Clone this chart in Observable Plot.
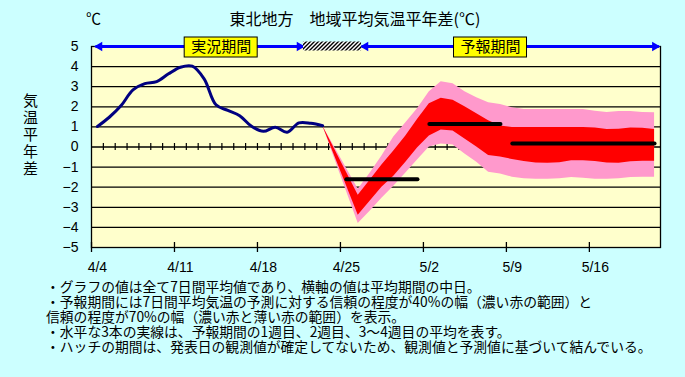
<!DOCTYPE html>
<html><head><meta charset="utf-8">
<script src="https://cdn.jsdelivr.net/npm/d3@7"></script>
<script src="https://cdn.jsdelivr.net/npm/@observablehq/plot@0.6"></script>
<style>
body{margin:0;background:#ccffff;width:685px;height:377px;position:relative;overflow:hidden;font-family:"Noto Sans CJK JP",sans-serif;}
.t{position:absolute;white-space:nowrap;color:#000;}
.n{position:absolute;left:46px;white-space:nowrap;font-size:13.8px;line-height:15px;height:15px;color:#000;}
</style></head><body>
<div id="chart" style="position:absolute;left:0;top:0"></div>
<div class="t" style="left:86px;top:7px;font-size:15px">℃</div>
<div class="t" style="left:355px;top:6px;font-size:16px;transform:translateX(-50%)">東北地方　地域平均気温平年差(℃)</div>
<div class="t" style="left:23px;top:91px;font-size:15px;line-height:17px;white-space:normal;width:16px">気<br>温<br>平<br>年<br>差</div>
<div class="n" style="top:279px">・グラフの値は全て7日間平均値であり、横軸の値は平均期間の中日。</div>
<div class="n" style="top:294px">・予報期間には7日間平均気温の予測に対する信頼の程度が40%の幅（濃い赤の範囲）と</div>
<div class="n" style="top:309px">信頼の程度が70%の幅（濃い赤と薄い赤の範囲）を表示。</div>
<div class="n" style="top:324px">・水平な3本の実線は、予報期間の1週目、2週目、3～4週目の平均を表す。</div>
<div class="n" style="top:339px">・ハッチの期間は、発表日の観測値が確定してないため、観測値と予測値に基づいて結んでいる。</div>
<script>
// ---- data (day index: 0 = 4/4) ----
const obsDay = [0,1,2,3,4,5,6,7,8,9,10,11,12,13,14,15,16,17,18,19];
const obsVal = [1.02,1.48,2.06,2.84,3.15,3.25,3.64,3.97,4.02,3.39,2.1,1.82,1.56,1.03,0.78,0.98,0.73,1.2,1.18,1.06];

const fcDay  = [19,22,23,24,25,26,27,28,29,30,31,32,33,34,35,36,37,38,39,40,41,42,43,44,45,46,47];
const pinkHi = [1.06,-2.1,-1.3,-0.45,0.5,1.2,1.9,2.75,3.25,3.15,2.75,2.45,2.2,2.12,1.95,1.87,1.86,1.86,1.86,1.86,1.86,1.78,1.72,1.77,1.77,1.72,1.7];
const redHi  = [1.06,-2.4,-1.65,-0.9,-0.2,0.53,1.37,2.15,2.42,2.32,2.0,1.65,1.3,1.05,0.97,0.97,0.97,0.97,0.97,0.97,0.97,0.95,0.87,0.88,0.95,0.93,0.87];
const redLo  = [1.06,-3.4,-2.7,-2.0,-1.45,-0.77,-0.05,0.55,0.85,0.8,0.4,0.0,-0.42,-0.5,-0.62,-0.72,-0.8,-0.81,-0.78,-0.69,-0.68,-0.72,-0.8,-0.81,-0.74,-0.71,-0.71];
const pinkLo = [1.06,-3.8,-3.2,-2.55,-1.95,-1.3,-0.65,0.0,0.15,0.1,-0.35,-0.76,-1.25,-1.34,-1.5,-1.58,-1.6,-1.6,-1.58,-1.52,-1.55,-1.6,-1.6,-1.58,-1.52,-1.5,-1.5];

const weekFrom = [21,28,35];
const weekTo   = [27,34,47];
const weekMean = [-1.6,1.15,0.18];

const dateLabels = ["4/4","4/11","4/18","4/25","5/2","5/9","5/16"];
const labelDay   = [0,7,14,21,28,35,42];
const yTicks = [-5,-4,-3,-2,-1,0,1,2,3,4,5];
const periods = ["実況期間","予報期間"];

// ---- build ----
const obs = obsDay.map((d,i)=>({d, v: obsVal[i]}));
const fc = fcDay.map((d,i)=>({d, ph: pinkHi[i], rh: redHi[i], rl: redLo[i], pl: pinkLo[i]}));
const weeks = weekFrom.map((f,i)=>({f, t: weekTo[i], m: weekMean[i]}));

// banner layout (annotation, in day units)
const bannerArrows = [{a:-0.16,b:17.38},{a:22.28,b:47.36}];
const bannerMid = [10.44, 33.16];
const hatch = [{a:17.38, b:22.28}];
const minorTicks = d3.range(0.5, 47, 1);
const majorTicks = d3.range(-0.5, 42, 7);

const chart = Plot.plot({
  width:685, height:280, marginLeft:91, marginRight:25, marginTop:46, marginBottom:33,
  style:{background:"transparent", fontFamily:"'Liberation Sans', Arial, sans-serif", fontSize:"14px", color:"black"},
  x:{domain:[-0.5,47.5], ticks: labelDay, tickFormat: d => dateLabels[labelDay.indexOf(d)], tickSize:0, tickPadding:15, label:null},
  y:{domain:[-5,5], ticks: yTicks, tickSize:0, tickPadding:13, label:null},
  marks:[
    Plot.frame({fill:"#ffffcc"}),
    Plot.ruleY(yTicks.filter(v=>Math.abs(v)<5), {stroke:"black", strokeWidth:1.3}),
    Plot.ruleX(minorTicks, {y1:0, y2:0, insetTop:-3.5, insetBottom:-3.5, stroke:"black", strokeWidth:1.2}),
    Plot.areaY(fc, {x:"d", y1:"pl", y2:"ph", fill:"#ff99cc"}),
    Plot.areaY(fc, {x:"d", y1:"rl", y2:"rh", fill:"#ff0000"}),
    Plot.line(obs, {x:"d", y:"v", stroke:"#000080", strokeWidth:3, curve:"catmull-rom"}),
    Plot.link(weeks, {x1:"f", x2:"t", y1:"m", y2:"m", stroke:"black", strokeWidth:4, strokeLinecap:"round"}),
    Plot.frame({stroke:"black", strokeWidth:1.3}),
    Plot.ruleX(majorTicks, {y1:-5, y2:-5, insetTop:-5, insetBottom:-5, stroke:"black", strokeWidth:1.3}),
    Plot.link(bannerArrows, {x1:"a", x2:"b", y1:5, y2:5, stroke:"#0000ff", strokeWidth:3}),
    Plot.dot(bannerArrows, {x:"a", y:5, symbol:"triangle", rotate:-90, r:3.5, fill:"#0000ff", dx:4}),
    Plot.dot(bannerArrows, {x:"b", y:5, symbol:"triangle", rotate:90, r:3.5, fill:"#0000ff", dx:-4}),
    Plot.rect(hatch, {x1:"a", x2:"b", y1:5, y2:5, insetTop:-4.5, insetBottom:-4.5, fill:"url(#hatch)"}),
    Plot.rect(bannerMid, {x1:d=>d, x2:d=>d, y1:5, y2:5, insetLeft:-36.5, insetRight:-36.5, insetTop:-9, insetBottom:-11, fill:"#ffff00", stroke:"black"}),
    Plot.text(bannerMid, {x:d=>d, y:5, text:(d,i)=>periods[i], fontSize:15, dy:1, fontFamily:"Noto Sans CJK JP", fill:"black"})
  ]
});
d3.select(chart).insert("defs", ":first-child").html('<pattern id="hatch" patternUnits="userSpaceOnUse" width="4" height="4"><rect width="4" height="4" fill="#ffffff"/><path d="M-1,1 l2,-2 M0,4 l4,-4 M3,5 l2,-2" stroke="#000" stroke-width="1.4"/></pattern>');
document.getElementById("chart").appendChild(chart);
</script>
</body></html>
